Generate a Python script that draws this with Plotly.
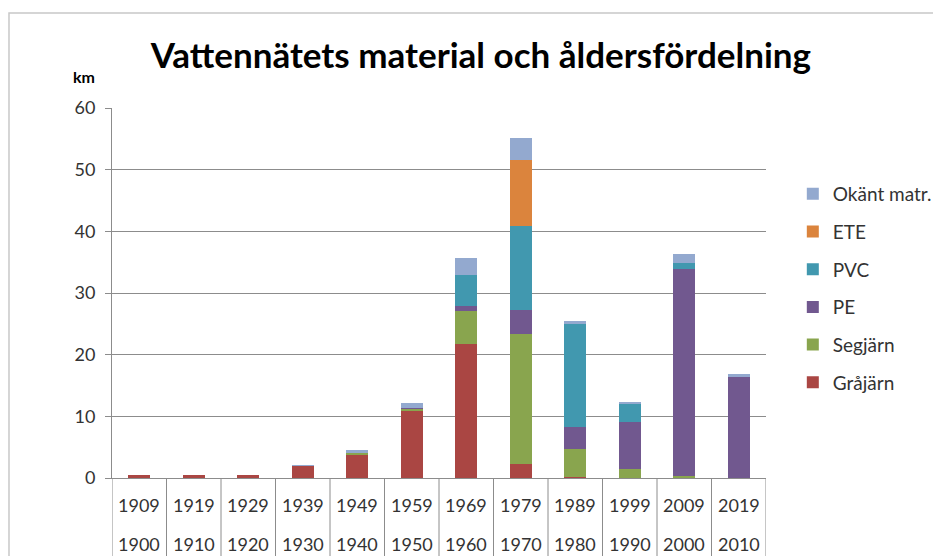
import plotly.graph_objects as go

# Data
start_years = ["1900", "1910", "1920", "1930", "1940", "1950", "1960", "1970", "1980", "1990", "2000", "2010"]
end_years = ["1909", "1919", "1929", "1939", "1949", "1959", "1969", "1979", "1989", "1999", "2009", "2019"]

grajarn = [0.5, 0.5, 0.5, 2.0, 3.8, 10.9, 21.7, 2.2, 0.2, 0.0, 0.0, 0.0]
segjarn = [0.0, 0.0, 0.0, 0.0, 0.2, 0.3, 5.4, 21.1, 4.5, 1.5, 0.3, 0.0]
pe      = [0.0, 0.0, 0.0, 0.0, 0.0, 0.2, 0.8, 4.0, 3.6, 7.6, 33.6, 16.4]
pvc     = [0.0, 0.0, 0.0, 0.0, 0.0, 0.0, 5.0, 13.5, 16.7, 2.9, 0.9, 0.0]
ete     = [0.0, 0.0, 0.0, 0.0, 0.0, 0.0, 0.0, 10.8, 0.0, 0.0, 0.0, 0.0]
okant   = [0.0, 0.0, 0.0, 0.1, 0.5, 0.8, 2.7, 3.6, 0.4, 0.3, 1.6, 0.5]

series = [
    ("Gråjärn", grajarn, "#AA4643"),
    ("Segjärn", segjarn, "#89A54E"),
    ("PE", pe, "#71588F"),
    ("PVC", pvc, "#4198AF"),
    ("ETE", ete, "#DB843D"),
    ("Okänt matr.", okant, "#93A9CF"),
]

y_ticks = [0, 10, 20, 30, 40, 50, 60]

FONT = "Lato"
TXT = "#333333"

cats = [f"{s}-{e}" for s, e in zip(start_years, end_years)]

fig = go.Figure()
n = len(series)
for i, (name, vals, color) in enumerate(series):
    fig.add_trace(go.Bar(
        x=cats, y=vals, name=name, marker=dict(color=color, line=dict(width=0)),
        legendgroup=f"g{i}", legendrank=n - i,
    ))

shapes = []
# category dividers below axis
for i in range(len(cats) + 1):
    shapes.append(dict(type="line", xref="x", yref="paper", x0=i - 0.5, x1=i - 0.5,
                       y0=0, y1=-0.3, line=dict(color="#8c8c8c", width=1)))
# chart frame
shapes.append(dict(type="rect", xref="paper", yref="paper", x0=-0.1575, x1=2.0,
                   y0=1.2568, y1=-1.0, line=dict(color="#c8c8c8", width=1.5)))

annotations = []
for i, (s, e) in enumerate(zip(start_years, end_years)):
    annotations.append(dict(x=i, y=-0.073, xref="x", yref="paper", text=e, showarrow=False,
                            font=dict(family=FONT, size=18, color=TXT), yanchor="middle"))
    annotations.append(dict(x=i, y=-0.178, xref="x", yref="paper", text=s, showarrow=False,
                            font=dict(family=FONT, size=18, color=TXT), yanchor="middle"))
annotations.append(dict(x=-0.043, y=1.086, xref="paper", yref="paper", text="<b>km</b>",
                        showarrow=False, font=dict(family=FONT, size=16, color="#000"),
                        xanchor="center", yanchor="middle"))

fig.update_layout(
    width=941, height=556,
    margin=dict(l=104, r=183, t=100, b=86),
    paper_bgcolor="white", plot_bgcolor="white",
    barmode="stack", bargap=0.6,
    title=dict(text="<b>Vattennätets material och åldersfördelning</b>",
               xref="paper", x=0.564, xanchor="center",
               yref="container", y=1 - 48 / 556, yanchor="middle",
               font=dict(family=FONT, size=35, color="#000")),
    xaxis=dict(type="category", showticklabels=False, showgrid=False, ticks="",
               showline=True, linecolor="#8c8c8c", linewidth=1,
               range=[-0.5, len(cats) - 0.5]),
    yaxis=dict(range=[0, 60], tickvals=y_ticks, showgrid=True, gridcolor="#8c8c8c",
               gridwidth=1, showline=True, linecolor="#8c8c8c", linewidth=1,
               ticks="outside", ticklen=6, tickcolor="#8c8c8c", zeroline=False,
               ticklabelstandoff=6,
               tickfont=dict(family=FONT, size=18, color=TXT)),
    legend=dict(x=1.041, y=0.819, xanchor="left", yanchor="top", traceorder="grouped",
                tracegroupgap=10, font=dict(family=FONT, size=19, color=TXT),
                itemwidth=30),
    showlegend=True,
    shapes=shapes, annotations=annotations,
)

fig.write_html("out.html")
